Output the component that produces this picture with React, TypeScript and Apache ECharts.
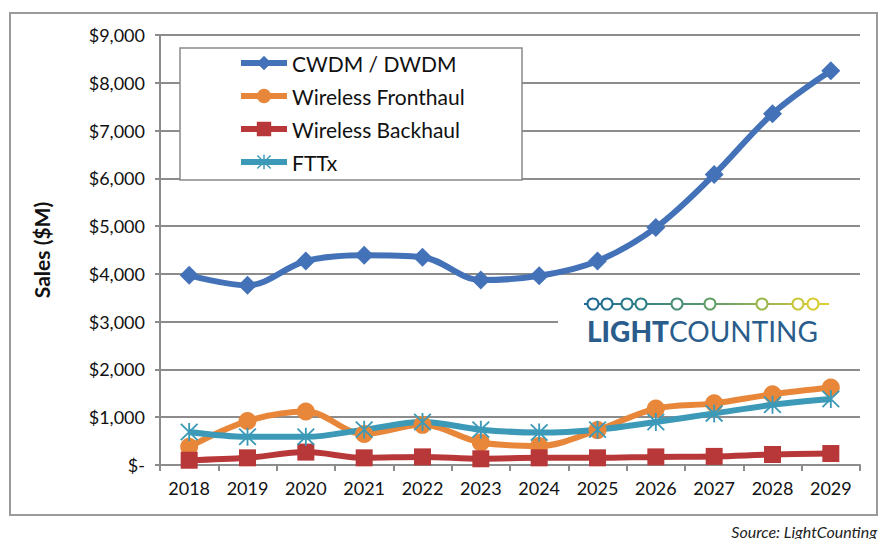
import React, { useEffect, useRef } from "react";
import * as echarts from "echarts";

const years = ["2018", "2019", "2020", "2021", "2022", "2023", "2024", "2025", "2026", "2027", "2028", "2029"];
const cwdm = [3970, 3760, 4270, 4390, 4350, 3870, 3960, 4270, 4970, 6080, 7350, 8250];
const fronthaul = [380, 920, 1120, 650, 840, 470, 400, 730, 1180, 1290, 1480, 1620];
const backhaul = [100, 150, 270, 150, 170, 130, 150, 150, 170, 180, 220, 240];
const fttx = [690, 590, 590, 740, 900, 740, 680, 740, 900, 1080, 1260, 1380];
const seriesNames = ["CWDM / DWDM", "Wireless Fronthaul", "Wireless Backhaul", "FTTx"];

const starPath =
  "path://M9 0 L11 0 L11 20 L9 20 Z M0.3 1.7 L1.7 0.3 L19.7 18.3 L18.3 19.7 Z M18.3 0.3 L19.7 1.7 L1.7 19.7 L0.3 18.3 Z";

const logoCircles = [593, 607, 627, 641, 677, 710, 762, 798, 813];
const logoColors = ["#1f6a92", "#216f90", "#2a7a8c", "#318088", "#4a9078", "#63a068", "#9ab84c", "#c9c83a", "#d8cc36"];

export default function App() {
  const ref = useRef<HTMLDivElement>(null);
  useEffect(() => {
    const chart = echarts.init(ref.current!, null, { renderer: "svg" });
    const font = "Lato, 'Open Sans', sans-serif";
    const mk = (name: string, data: number[], color: string, symbol: string, size: number) => ({
      name,
      type: "line",
      data,
      smooth: 0.35,
      symbol,
      symbolSize: size,
      showSymbol: true,
      lineStyle: { color, width: 6 },
      itemStyle: { color, borderWidth: 0 },
      z: 3,
    });
    const graphics: any[] = [
      {
        type: "rect",
        shape: { x: 10, y: 13, width: 867, height: 502 },
        style: { fill: "none", stroke: "#9a9a9a", lineWidth: 2 },
        z: 0,
        silent: true,
      },
      {
        type: "rect",
        shape: { x: 180, y: 48, width: 342, height: 132 },
        style: { fill: "#ffffff", stroke: "#8a8a8a", lineWidth: 1.5 },
        z: 5,
      },
      {
        type: "rect",
        shape: { x: 558, y: 290, width: 304, height: 58 },
        style: { fill: "#ffffff" },
        z: 1,
      },
      {
        type: "line",
        shape: { x1: 584, y1: 304, x2: 829, y2: 304 },
        style: {
          stroke: new echarts.graphic.LinearGradient(584, 0, 829, 0, [
            { offset: 0, color: "#1f6a92" },
            { offset: 0.5, color: "#5a9a70" },
            { offset: 1, color: "#e0d033" },
          ], true),
          lineWidth: 2,
        },
        z: 6,
      },
      ...logoCircles.map((cx, i) => ({
        type: "circle",
        shape: { cx, cy: 304, r: 5.5 },
        style: { fill: "#ffffff", stroke: logoColors[i], lineWidth: 2 },
        z: 7,
      })),
      {
        type: "text",
        x: 587,
        y: 331,
        style: {
          text: "{b|LIGHT}{r|COUNTING}",
          verticalAlign: "middle",
          rich: {
            b: { fontFamily: font, fontWeight: 900, fontSize: 28, fill: "#2b5d8c" },
            r: { fontFamily: font, fontWeight: "normal", fontSize: 28, fill: "#2b5d8c" },
          },
        },
        z: 7,
      },
      {
        type: "text",
        x: 877,
        y: 531,
        style: {
          text: "Source: LightCounting",
          align: "right",
          verticalAlign: "middle",
          fontFamily: font,
          fontStyle: "italic",
          fontSize: 16,
          fill: "#222",
        },
      },
    ];
    chart.setOption({
      animation: false,
      backgroundColor: "#ffffff",
      grid: { left: 160, right: 20, top: 35, bottom: 74 },
      legend: {
        data: seriesNames,
        orient: "vertical",
        left: 238,
        top: 52,
        padding: 0,
        itemWidth: 46,
        itemHeight: 18,
        itemGap: 11,
        lineStyle: { width: 6 },
        textStyle: { fontFamily: font, fontSize: 21, color: "#111", lineHeight: 22 },
        z: 10,
      },
      xAxis: {
        type: "category",
        data: years,
        boundaryGap: true,
        axisLine: { lineStyle: { color: "#8c8c8c", width: 2 } },
        axisTick: { show: true, length: 6, lineStyle: { color: "#8c8c8c", width: 2 } },
        axisLabel: { fontFamily: font, fontSize: 18, color: "#111", margin: 14 },
      },
      yAxis: {
        type: "value",
        min: 0,
        max: 9000,
        interval: 1000,
        name: "Sales ($M)",
        nameLocation: "middle",
        nameGap: 108,
        nameTextStyle: { fontFamily: font, fontSize: 21, fontWeight: "bold", color: "#111" },
        axisLine: { show: true, lineStyle: { color: "#8c8c8c", width: 2 } },
        axisTick: { show: true, length: 5, lineStyle: { color: "#8c8c8c", width: 2 } },
        axisLabel: {
          fontFamily: font,
          fontSize: 18,
          color: "#111",
          margin: 15,
          formatter: (v: number) => (v === 0 ? "$-" : "$" + v.toLocaleString("en-US")),
        },
        splitLine: { lineStyle: { color: "#8c8c8c", width: 2 } },
      },
      graphic: graphics,
      series: [
        mk(seriesNames[0], cwdm, "#4472b8", "diamond", 19),
        mk(seriesNames[1], fronthaul, "#e8873a", "circle", 18),
        mk(seriesNames[2], backhaul, "#b8383a", "rect", 17),
        mk(seriesNames[3], fttx, "#3c9ab8", starPath, 18),
      ],
    });
    return () => chart.dispose();
  }, []);
  return <div ref={ref} style={{ width: 880, height: 539, position: "absolute", left: 0, top: 0 }} />;
}
